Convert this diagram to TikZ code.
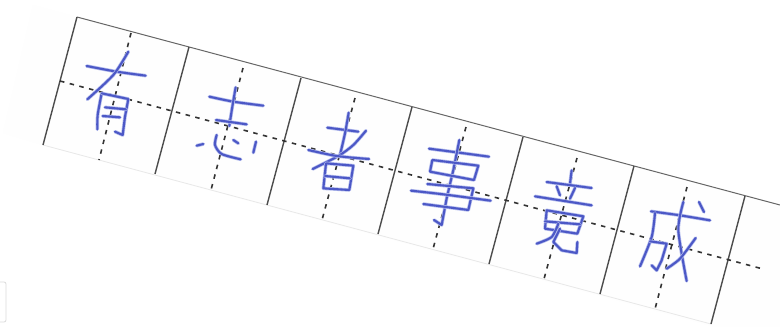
\documentclass[tikz,border=0pt]{standalone}
\definecolor{inkblue}{HTML}{4C58C6}
\definecolor{inkhalo}{HTML}{B4BCEE}
\definecolor{paper}{HTML}{FEFEFE}
\tikzset{
  halo/.style={draw=inkhalo,line width=3.5pt,line cap=round,line join=round},
  ink/.style={draw=inkblue,line width=2.1pt,line cap=round,line join=round,preaction={halo}},
  cellline/.style={draw=black!70,line width=1.4pt},
  topline/.style={draw=black!60,line width=1pt},
  botline/.style={draw=black!9,line width=.8pt},
  guide/.style={draw=black!80,line width=1.6pt,dash pattern=on 4.5pt off 5.5pt},
  zoomed/.style={shift={(#1)},scale=1/3}
}
\newcommand{\st}[1]{\draw[ink] plot[smooth,tension=.45] coordinates {#1};}
\begin{document}
\begin{tikzpicture}[x=1pt,y=-1pt]
\useasboundingbox (0,0) rectangle (780,327);
\fill[white] (0,0) rectangle (780,327);
\fill[paper] (33,5) -- (77,17) -- (780,205) -- (780,327) -- (716,327) -- (43,145) -- (3,133) -- cycle;
% grid
\coordinate (tl) at (77,17); \coordinate (tr) at (780,205);
\coordinate (bl) at (43,145); \coordinate (br) at (711,324);
\draw[botline] (bl) -- (br);
\draw[topline] (tl) -- (tr);
\draw[cellline] (tl) -- (bl);
\draw[cellline] (189,47) -- (155,174);
\draw[cellline] (301,78) -- (267,205);
\draw[cellline] (412,107) -- (378,234);
\draw[cellline] (523,137) -- (489,264);
\draw[cellline] (634,166) -- (600,294);
\draw[cellline] (745,196) -- (711,324);
% guides
\draw[guide] (60,81) -- (763,269);
\draw[guide] (131,33) -- (99,160);
\draw[guide] (243,68) -- (211,190);
\draw[guide] (355,98) -- (322,220);
\draw[guide] (466,127) -- (433,249);
\draw[guide] (577,158) -- (544,279);
\draw[guide] (687,187) -- (655,309);
% left edge box
\draw[black!14,line width=.8pt,rounded corners=2pt] (-3,282) -- (6,282) -- (6,322) -- (-3,322);
% characters
\begin{scope}[zoomed={0,0}]
\st{(260,198) (350,215) (437,227)}
\st{(385,155) (340,225) (262,298)}
\st{(305,280) (293,345) (292,388)}
\draw[ink] (305,280) -- (385,297) -- (375,350) -- (368,405) -- (345,395);
\st{(315,322) (378,328)}
\st{(308,348) (360,352)}
\st{(628,290) (700,305) (790,317)}
\st{(707,262) (697,320) (688,378)}
\st{(648,360) (740,373)}
\st{(590,437) (610,432)}
\st{(650,405) (645,435) (665,462) (722,478)}
\st{(700,420) (715,430)}
\st{(768,425) (760,458)}
\end{scope}
\begin{scope}[zoomed={270,70}]
\st{(172,173) (265,185)}
\st{(236,128) (225,190) (210,255)}
\st{(288,182) (250,225) (205,258) (128,297)}
\st{(115,240) (200,258) (297,267)}
\draw[ink] (168,280) -- (160,355) -- (238,360) -- (250,287) -- cycle;
\st{(165,318) (240,325)}
\st{(477,236) (560,247) (657,260)}
\draw[ink] (568,210) -- (550,300) -- (530,385) -- (515,465) -- (492,450);
\draw[ink] (480,305) -- (487,270) -- (625,287) -- (612,330) -- (480,305);
\draw[ink] (472,342) -- (610,355) -- (595,420) -- (460,402);
\st{(423,362) (520,373) (662,392)}
\end{scope}
\begin{scope}[zoomed={520,127}]
\st{(155,130) (150,170)}
\st{(80,165) (215,183)}
\st{(110,178) (120,205)}
\st{(165,183) (150,215)}
\st{(45,208) (215,235)}
\draw[ink] (75,305) -- (80,250) -- (190,268) -- (172,320) -- cycle;
\st{(75,283) (180,292)}
\st{(115,290) (95,330) (50,350)}
\draw[ink] (120,305) -- (100,345) -- (125,370) -- (170,378) -- (172,345);
\st{(393,253) (480,265) (570,280)}
\st{(405,258) (395,330) (360,418)}
\draw[ink] (390,343) -- (440,350) -- (425,400) -- (410,430) -- (395,415);
\st{(490,225) (475,310) (500,462)}
\st{(537,225) (552,255)}
\st{(527,333) (480,395) (440,425)}
\end{scope}
\end{tikzpicture}
\end{document}
